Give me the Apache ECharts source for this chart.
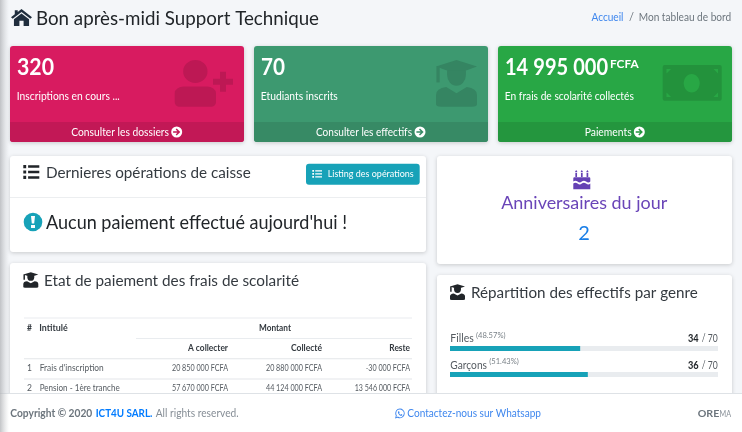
<!DOCTYPE html>
<html>
<head>
<meta charset="utf-8">
<title>Tableau de bord</title>
<script src="https://cdn.jsdelivr.net/npm/echarts@6/dist/echarts.min.js"></script>
<style>
html, body { margin: 0; padding: 0; background: #f4f6f9; }
#chart { width: 742px; height: 432px; }
</style>
</head>
<body>
<div id="chart"></div>
<script>
var genderLabels = ['Filles', 'Garçons'];
var genderPercents = ['48.57%', '51.43%'];
var genderValues = [34, 36];
var genderTotal = 70;

var statValues = ['320', '70', '14\u202f995\u202f000'];
var statLabels = ['Inscriptions en cours ...', 'Etudiants inscrits', 'En frais de scolarité collectés'];
var statLinks = ['Consulter les dossiers', 'Consulter les effectifs', 'Paiements'];

var tableRows = [
    ['1', "Frais d'inscription", '20\u202f850\u202f000 FCFA', '20\u202f880\u202f000 FCFA', '-30\u202f000 FCFA'],
    ['2', 'Pension - 1ère tranche', '57\u202f670\u202f000 FCFA', '44\u202f124\u202f000 FCFA', '13\u202f546\u202f000 FCFA']
];
var tableHeads = ['A collecter', 'Collecté', 'Reste'];

var FONT = 'Lato, "Open Sans", sans-serif';
var elements = [];
var iconCount = 0;
var measure = document.createElement('canvas').getContext('2d');

function rect(x, y, w, h, fill, r, shadow, z) {
    elements.push({
        type: 'rect', z: z || 1, silent: true,
        shape: { x: x, y: y, width: w, height: h, r: r || 0 },
        style: shadow ? { fill: fill, shadowBlur: 4, shadowColor: 'rgba(0,0,0,0.18)', shadowOffsetY: 1 } : { fill: fill }
    });
}
// opts.w : largeur voulue, le texte est resserre pour la tenir
function text(x, y, str, size, color, opts) {
    opts = opts || {};
    var font = (opts.weight || 'normal') + ' ' + size + 'px ' + FONT;
    var sx = 1;
    if (opts.w) {
        measure.font = font;
        sx = opts.w / measure.measureText(str).width;
    }
    elements.push({
        type: 'text', z: opts.z || 5, silent: true,
        x: x, y: y, originX: 0, originY: 0, scaleX: sx,
        style: {
            x: 0, y: 0, text: str, fill: color, font: font,
            align: opts.align || 'left', textAlign: opts.align || 'left',
            verticalAlign: 'middle', textVerticalAlign: 'middle'
        }
    });
}
// le composant graphic n'a pas de type path : on enregistre une forme par icone
function icon(d, x, y, w, h, color, z) {
    var name = 'icon' + (iconCount++);
    echarts.graphic.registerShape(name, echarts.graphic.extendPath(d, {}));
    var box = echarts.graphic.makePath(d, {}).getBoundingRect();
    var sx = w / box.width, sy = h / box.height;
    elements.push({
        type: name, z: z || 4, silent: true,
        x: x - box.x * sx, y: y - box.y * sy, scaleX: sx, scaleY: sy,
        style: { fill: color }
    });
}
function circle(cx, cy, r, color, z) {
    elements.push({ type: 'circle', z: z || 4, silent: true, shape: { cx: cx, cy: cy, r: r }, style: { fill: color } });
}
function arrowCircle(cx, cy, color) {
    circle(cx, cy, 5.5, '#fff', 5);
    icon('M5 0 L10 5 L5 10 L3.6 8.6 L6 6.2 H0 V3.8 H6 L3.6 1.4 Z', cx - 3.6, cy - 3.6, 7.2, 7.2, color, 6);
}

var PATH_HOME = 'M50 6 L100 50 L92 58 L50 22 L8 58 L0 50 L18 34 V12 H32 V22 Z M50 30 L86 60 V96 H60 V68 H40 V96 H14 V60 Z';
var PATH_USER = 'M20.5 24.5 a29.5 24.5 0 1 0 59 0 a29.5 24.5 0 1 0 -59 0 Z M22 57 H78 a22 14 0 0 1 22 14 V90 a10 10 0 0 1 -10 10 H10 a10 10 0 0 1 -10 -10 V71 a22 14 0 0 1 22 -14 Z';
var PATH_PLUS = 'M35 0 H65 V35 H100 V65 H65 V100 H35 V65 H0 V35 H35 Z';
var PATH_CAP = 'M50 0 L100 14 L50 30 L0 14 Z';
var PATH_LIST = 'M30 8 H100 V24 H30 Z M30 42 H100 V58 H30 Z M30 76 H100 V92 H30 Z M0 6 H18 V26 H0 Z M0 40 H18 V60 H0 Z M0 74 H18 V94 H0 Z';
var PATH_CAKE = 'M17 0 L23 8 V12 H11 V8 Z M50 0 L56 8 V12 H44 V8 Z M83 0 L89 8 V12 H77 V8 Z M12 15 H22 V36 H12 Z M45 15 H55 V36 H45 Z M78 15 H88 V36 H78 Z M6 38 H94 a6 6 0 0 1 6 6 V60 Q90 70 75 60 Q62 52 50 60 Q38 70 25 60 Q12 52 0 60 V44 a6 6 0 0 1 6 -6 Z M0 70 Q12 62 25 70 Q38 80 50 70 Q62 62 75 70 Q90 80 100 70 V100 H0 Z';
var PATH_WA = 'M50 4 a46 46 0 1 1 -22 86 L2 98 L10 72 A46 46 0 0 1 50 4 Z M50 14 A36 36 0 0 0 20 70 L15 86 L31 80 A36 36 0 1 0 50 14 Z M36 30 L42 30 L47 42 L42 48 Q48 58 58 62 L64 56 L74 62 L72 70 Q60 76 44 64 Q28 50 30 38 Z';

function graduate(x, y, w, h, color, z) {
    icon(PATH_CAP, x, y, w, h * 0.3, color, z);
    icon('M0 0 H8 V40 H0 Z', x + w * 0.01, y + h * 0.14, Math.max(1.5, w * 0.08), h * 0.34, color, z);
    icon('M0 0 H100 V20 A50 50 0 0 1 0 20 Z', x + w * 0.27, y + h * 0.22, w * 0.46, h * 0.33, color, z);
    icon('M25 0 L50 30 L75 0 Q100 6 100 40 V85 a12 12 0 0 1 -12 12 H12 a12 12 0 0 1 -12 -12 V40 Q0 6 25 0 Z', x, y + h * 0.58, w, h * 0.42, color, z);
}

// ombre de la barre laterale
elements.push({
    type: 'rect', z: 13, silent: true,
    shape: { x: 0, y: 0, width: 9, height: 432 },
    style: { fill: new echarts.graphic.LinearGradient(0, 0, 1, 0, [
        { offset: 0, color: 'rgba(170,172,176,0.7)' }, { offset: 1, color: 'rgba(200,202,205,0)' }
    ]) }
});

// en-tete
icon(PATH_HOME, 11, 9, 21, 17, '#1f2d3d');
text(36, 19, 'Bon après-midi Support Technique', 19.5, '#212529', { w: 283 });
text(591.5, 17, 'Accueil', 11, '#3f87ee', { w: 32 });
text(629, 17, '/', 11, '#6c757d');
text(638.7, 17, 'Mon tableau de bord', 11, '#6c757d', { w: 92.5 });

// cartes de statistiques
var statCards = [
    { x: 10, color: '#d81b60', foot: '#c21856', shade: '#bd1854' },
    { x: 254, color: '#3d9970', foot: '#378a65', shade: '#358562' },
    { x: 498, color: '#28a745', foot: '#24963e', shade: '#23923c' }
];
var statValueW = [37, 24, 103];
var statLabelW = [103, 77, 129];
statCards.forEach(function (c, i) {
    rect(c.x, 46, 234, 96, c.color, 3, true);
    rect(c.x, 122, 234, 20, c.foot, [0, 0, 3, 3], false, 2);
    text(c.x + 7, 67.5, statValues[i], 23, '#fff', { weight: 'bold', w: statValueW[i] });
    text(c.x + 6.8, 96.7, statLabels[i], 11, '#fff', { w: statLabelW[i] });
});
text(610, 64, 'FCFA', 12, '#fff', { weight: 'bold', w: 28.6 });
text(71.3, 132.3, statLinks[0], 11.5, '#fff', { w: 97.7 });
text(316, 132.3, statLinks[1], 11.5, '#fff', { w: 96 });
text(584.7, 132.3, statLinks[2], 11.5, '#fff', { w: 47 });
arrowCircle(176.7, 132, statCards[0].foot);
arrowCircle(420, 132, statCards[1].foot);
arrowCircle(639.3, 132, statCards[2].foot);

icon(PATH_USER, 174.7, 60, 41.3, 46.7, statCards[0].shade);
icon(PATH_PLUS, 213, 71.7, 20, 20, statCards[0].shade);
graduate(436, 60, 41, 46.7, statCards[1].shade);
rect(662.7, 65, 59, 35.7, statCards[2].shade, 2, false, 4);
elements.push({ type: 'ellipse', z: 6, silent: true, shape: { cx: 691.7, cy: 83.3, rx: 8, ry: 9.3 }, style: { fill: statCards[2].color } });
icon('M0 0 H10 L0 10 Z', 666.5, 69, 4.5, 4.5, statCards[2].color, 5);
icon('M0 0 H10 V10 Z', 713.5, 69, 4.5, 4.5, statCards[2].color, 5);
icon('M0 0 L10 10 H0 Z', 666.5, 92.5, 4.5, 4.5, statCards[2].color, 5);
icon('M10 0 V10 H0 Z', 713.5, 92.5, 4.5, 4.5, statCards[2].color, 5);

// dernieres operations
rect(10, 156, 416, 96, '#fff', 3, true);
rect(10, 197, 416, 1, '#eceef0', 0, false, 2);
icon(PATH_LIST, 23.3, 165, 16, 14, '#212529');
text(46, 173, 'Dernieres opérations de caisse', 15.5, '#343a40', { w: 204.7 });
rect(306, 163.7, 113.7, 21, '#17a2b8', 3, false, 2);
icon(PATH_LIST, 312.3, 170, 9.7, 7.7, '#fff');
text(327.7, 174, 'Listing des opérations', 10, '#fff', { w: 86 });
circle(33, 222, 9.3, '#17a2b8');
icon('M40 0 H60 L56 62 H44 Z M40 74 H60 V100 H40 Z', 31, 216, 4, 12, '#fff', 5);
text(46, 222.7, "Aucun paiement effectué aujourd'hui !", 18.7, '#212529', { w: 301 });

// tableau
rect(10, 263, 416, 150, '#fff', 3, true);
graduate(23.3, 272.3, 15, 15.5, '#212529');
text(44, 280.7, 'Etat de paiement des frais de scolarité', 15.5, '#343a40', { w: 255 });
rect(24, 317.5, 388, 1, '#e9ecef', 0, false, 2);
rect(136, 338, 276, 1, '#e9ecef', 0, false, 2);
rect(24, 358.2, 388, 1, '#e3e6e9', 0, false, 2);
rect(24, 378.4, 388, 1, '#e3e6e9', 0, false, 2);
text(27, 328.3, '#', 8.5, '#343a40', { weight: 'bold' });
text(39.3, 328.3, 'Intitulé', 8.5, '#343a40', { weight: 'bold', w: 28.4 });
text(275, 328.3, 'Montant', 8.5, '#343a40', { weight: 'bold', align: 'center', w: 32 });
var colRight = [228, 322, 410];
var headW = [40, 31, 20.7];
tableHeads.forEach(function (h, i) {
    text(colRight[i], 348.7, h, 8.5, '#343a40', { weight: 'bold', align: 'right', w: headW[i] });
});
var rowLabelW = [64, 80];
var rowMoneyW = [[56, 56, 44.3], [56, 56, 55.3]];
tableRows.forEach(function (row, r) {
    var y = 368.4 + r * 20.3;
    text(27, y, row[0], 8.5, '#555b61');
    text(39.7, y, row[1], 8.5, '#555b61', { w: rowLabelW[r] });
    for (var c = 0; c < 3; c++) {
        text(colRight[c], y, row[c + 2], 8.5, '#555b61', { align: 'right', w: rowMoneyW[r][c] });
    }
});

// anniversaires
rect(437, 156, 295, 108, '#fff', 3, true);
icon(PATH_CAKE, 573.3, 170, 17, 19.3, '#6441b4');
text(584.2, 202.7, 'Anniversaires du jour', 18, '#6a45b8', { align: 'center', w: 166 });
text(584, 233.3, '2', 20, '#1a7fe8', { align: 'center' });

// repartition
rect(437, 275, 295, 140, '#fff', 3, true);
graduate(450, 284.3, 15, 15.7, '#212529');
text(471, 292.7, 'Répartition des effectifs par genre', 15.5, '#343a40', { w: 226.7 });
var genderNameW = [23.4, 36.7];
var genderPctX = [476, 489.3];
genderLabels.forEach(function (name, i) {
    var y = 338.3 + i * 26.7;
    text(450.3, y, name, 11, '#555b61', { w: genderNameW[i] });
    text(genderPctX[i], y - 3.3, '(' + genderPercents[i] + ')', 8, '#7a8288', { w: 29.5 });
    text(698.7, y, String(genderValues[i]), 11, '#212529', { weight: 'bold', align: 'right', w: 10.7 });
    text(717.7, y, '/ ' + genderTotal, 11, '#555b61', { align: 'right', w: 16 });
});

// pied de page
rect(0, 393, 742, 39, '#fff', 0, false, 10);
rect(0, 393, 742, 1, '#dee2e6', 0, false, 11);
text(10.3, 413.5, 'Copyright © 2020', 10.5, '#6c757d', { weight: 'bold', z: 12, w: 82 });
text(95.7, 413.5, 'ICT4U SARL.', 10.5, '#007bff', { weight: 'bold', z: 12, w: 56.7 });
text(155.7, 413.5, 'All rights reserved.', 10.5, '#868e96', { z: 12, w: 83 });
icon(PATH_WA, 395, 408.5, 9.7, 10, '#3f87ee', 12);
text(407.3, 413.5, 'Contactez-nous sur Whatsapp', 10.5, '#3f87ee', { z: 12, w: 133.7 });
text(697.7, 413.3, 'ORE', 10, '#6c757d', { weight: 'bold', z: 12, w: 21.6 });
text(719.5, 413.3, 'MA', 10, '#868e96', { z: 12, w: 11.5 });

var chart = echarts.init(document.getElementById('chart'));
var option = {
    animation: false,
    backgroundColor: '#f4f6f9',
    graphic: { elements: elements },
    grid: { left: 450, top: 335.5, width: 268, height: 52 },
    xAxis: { type: 'value', min: 0, max: genderTotal, show: false },
    yAxis: { type: 'category', data: genderLabels, inverse: true, show: false },
    series: [
        {
            type: 'bar',
            data: genderValues,
            barWidth: 5,
            z: 6,
            itemStyle: { color: '#17a2b8' },
            showBackground: true,
            backgroundStyle: { color: '#e9ecef' },
            silent: true
        }
    ]
};
chart.setOption(option);
</script>
</body>
</html>
